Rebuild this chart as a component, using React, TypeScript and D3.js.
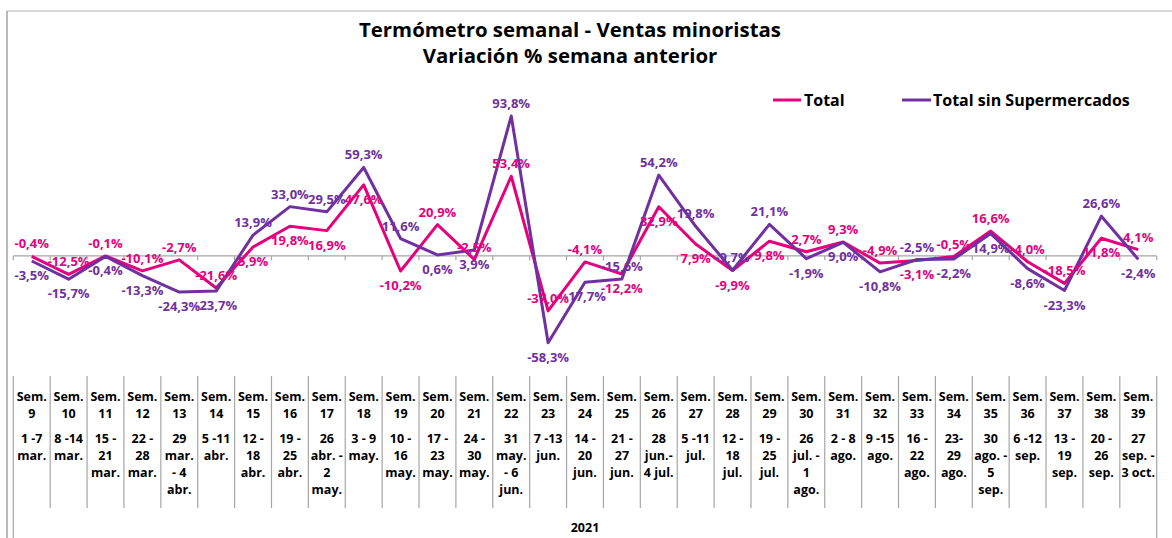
import React from 'react';
import * as d3 from 'd3';

// Weekly retail thermometer - % change vs previous week (2021)
const weeks = ['9', '10', '11', '12', '13', '14', '15', '16', '17', '18', '19', '20', '21', '22', '23', '24',
  '25', '26', '27', '28', '29', '30', '31', '32', '33', '34', '35', '36', '37', '38', '39'];

const weekDates = [
  '1 -7|mar.', '8 -14|mar.', '15 -|21|mar.', '22 -|28|mar.', '29|mar.|- 4|abr.', '5 -11|abr.',
  '12 -|18|abr.', '19 -|25|abr.', '26|abr. -|2|may.', '3 - 9|may.', '10 -|16|may.', '17 -|23|may.',
  '24 -|30|may.', '31|may.|- 6|jun.', '7 -13|jun.', '14 -|20|jun.', '21 -|27|jun.', '28|jun.-|4 jul.',
  '5 -11|jul.', '12 -|18|jul.', '19 -|25|jul.', '26|jul. -|1|ago.', '2 - 8|ago.', '9 -15|ago.',
  '16 -|22|ago.', '23-|29|ago.', '30|ago. -|5|sep.', '6 -12|sep.', '13 -|19|sep.', '20 -|26|sep.',
  '27|sep. -|3 oct.'];

const total = [-0.4, -12.5, -0.1, -10.1, -2.7, -21.6, 5.9, 19.8, 16.9, 47.6, -10.2, 20.9, -2.5, 53.4, -37.0,
  -4.1, -12.2, 32.9, 7.9, -9.9, 9.8, 2.7, 9.3, -4.9, -3.1, -0.5, 16.6, -4.0, -18.5, 11.8, 4.1];

const sinSuper = [-3.5, -15.7, -0.4, -13.3, -24.3, -23.7, 13.9, 33.0, 29.5, 59.3, 11.6, 0.6, 3.9, 93.8, -58.3,
  -17.7, -15.6, 54.2, 19.8, -9.7, 21.1, -1.9, 9.0, -10.8, -2.5, -2.2, 14.9, -8.6, -23.3, 26.6, -2.4];

const year = '2021';

// weeks where the labels sit the other way round in the original
const swappedLabels = ['21', '25'];
const bothAbove = ['22'];

const PINK = '#e5007e';
const PURPLE = '#7030a0';
const FONT = '"Open Sans", sans-serif';

const fmt = (v: number) => v.toFixed(1).replace('.', ',') + '%';

const App = () => {
  const width = 1172;
  const height = 538;

  const x = d3.scaleBand().domain(weeks).range([13.3, 1156.7]);
  const y = d3.scaleLinear().domain([-80, 100]).range([375, 106.8]);
  const cx = (w: string) => (x(w) as number) + x.bandwidth() / 2;

  const line = d3.line<number>()
    .x((_, i) => cx(weeks[i]))
    .y(d => y(d));

  const series = [
    { name: 'Total', values: total, color: PINK },
    { name: 'Total sin Supermercados', values: sinSuper, color: PURPLE },
  ];

  // label above for the higher point, below for the lower one
  const isAbove = (s: number, i: number) => {
    const w = weeks[i];
    if (bothAbove.includes(w)) return true;
    let up = s === 0 ? total[i] >= sinSuper[i] : sinSuper[i] > total[i];
    if (swappedLabels.includes(w)) up = !up;
    return up;
  };

  const boundaries = d3.range(weeks.length + 1).map(i => 13.3 + i * x.bandwidth());

  return (
    <svg width={width} height={height} style={{ position: 'absolute', left: 0, top: 0, background: '#fff' }}
      fontFamily={FONT}>
      {/* chart frame (cropped) */}
      <line x1={7} x2={width} y1={11} y2={11} stroke="#b4b4b4" strokeWidth={1.2} />
      <line x1={7} x2={7} y1={11} y2={height} stroke="#8c8c8c" strokeWidth={1.2} />

      {/* title */}
      <text x={570} y={37} textAnchor="middle" fontSize={20.4} fontWeight="bold" fill="#000">
        Termómetro semanal - Ventas minoristas
      </text>
      <text x={570} y={62.5} textAnchor="middle" fontSize={20.4} fontWeight="bold" fill="#000">
        Variación % semana anterior
      </text>

      {/* legend */}
      <g fontSize={16} fontWeight="bold">
        <line x1={773} x2={801} y1={100} y2={100} stroke={PINK} strokeWidth={3} />
        <text x={804} y={105.5}>Total</text>
        <line x1={902} x2={931} y1={100} y2={100} stroke={PURPLE} strokeWidth={3} />
        <text x={933} y={105.5}>Total sin Supermercados</text>
      </g>

      {/* zero axis with ticks */}
      <line x1={13.3} x2={1156.7} y1={y(0)} y2={y(0)} stroke="#a6a6a6" strokeWidth={1.2} />
      {boundaries.map((bx, i) => (
        <line key={'t' + i} x1={bx} x2={bx} y1={y(0)} y2={y(0) + 4.5} stroke="#a6a6a6" strokeWidth={1.2} />
      ))}

      {/* lines */}
      {series.map(s => (
        <path key={s.name} d={line(s.values) || ''} fill="none" stroke={s.color} strokeWidth={3}
          strokeLinejoin="round" />
      ))}

      {/* data labels */}
      {series.map((s, si) => (
        <g key={s.name + 'l'} fontSize={13} fontWeight="bold" fill={s.color} textAnchor="middle">
          {s.values.map((v, i) => {
            const up = isAbove(si, i);
            return (
              <text key={i} x={cx(weeks[i])} y={up ? y(v) - 8 : y(v) + 19}>{fmt(v)}</text>
            );
          })}
        </g>
      ))}

      {/* category table */}
      {boundaries.map((bx, i) => {
        const outer = i === 0 || i === boundaries.length - 1;
        return (
          <line key={'d' + i} x1={bx} x2={bx} y1={376} y2={outer ? height : 508} stroke="#a6a6a6"
            strokeWidth={1.2} />
        );
      })}
      <g fontSize={12.5} fontWeight="bold" fill="#000" textAnchor="middle">
        {weeks.map((w, i) => (
          <g key={'c' + w}>
            <text x={cx(w)} y={400.5}>Sem.</text>
            <text x={cx(w)} y={418}>{w}</text>
            {weekDates[i].split('|').map((ln, j) => (
              <text key={j} x={cx(w)} y={443 + j * 17}>{ln}</text>
            ))}
          </g>
        ))}
        <text x={585} y={532}>{year}</text>
      </g>
    </svg>
  );
};

export default App;
